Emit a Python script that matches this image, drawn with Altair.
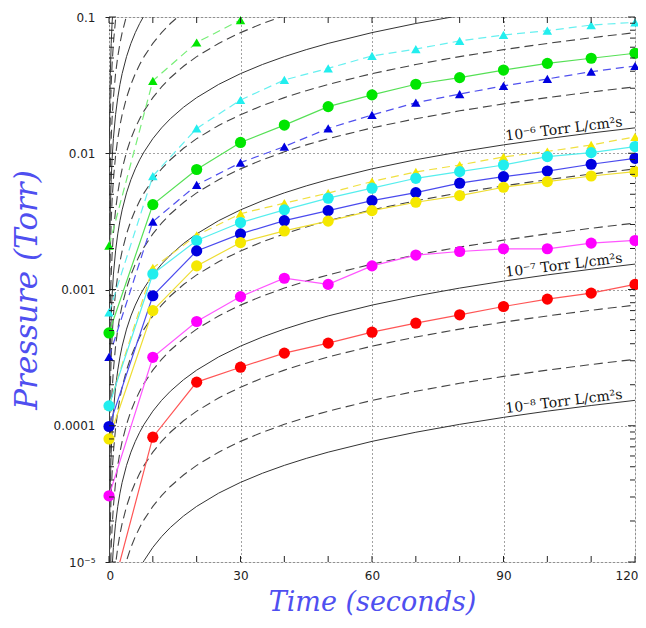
import altair as alt
import pandas as pd

# ---------------- data ----------------
times = [0, 10, 20, 30, 40, 50, 60, 70, 80, 90, 100, 110, 120]

green_triangles = [0.0021, 0.034, 0.065, 0.095]
cyan_triangles = [0.00068, 0.0068, 0.0152, 0.0246, 0.0345, 0.042, 0.0518, 0.0582, 0.0667, 0.0738, 0.0794, 0.0873, 0.0914]
blue_triangles = [0.00032, 0.00315, 0.00585, 0.00853, 0.0112, 0.0152, 0.0191, 0.0235, 0.0272, 0.0312, 0.0351, 0.0397, 0.0437]
yellow_triangles = [0.00014, 0.00144, 0.0025, 0.0036, 0.0043, 0.0051, 0.0062, 0.0073, 0.0082, 0.0094, 0.0103, 0.0115, 0.0132]
green_circles = [0.00048, 0.0042, 0.0076, 0.012, 0.0161, 0.022, 0.0268, 0.0321, 0.0359, 0.0408, 0.0457, 0.0498, 0.0542]
cyan_circles = [0.00014, 0.0013, 0.00229, 0.0031, 0.00384, 0.00468, 0.00554, 0.00655, 0.00733, 0.0082, 0.00944, 0.0101, 0.0112]
blue_circles = [0.0000987, 0.0009, 0.00192, 0.00256, 0.0032, 0.00379, 0.00449, 0.00514, 0.00603, 0.00673, 0.0074, 0.0083, 0.00918]
yellow_circles = [0.00008, 0.0007, 0.00149, 0.00221, 0.00269, 0.00318, 0.00379, 0.00437, 0.00489, 0.00563, 0.0062, 0.00681, 0.00733]
magenta_circles = [0.0000306, 0.000318, 0.000582, 0.000887, 0.00121, 0.00109, 0.00149, 0.00179, 0.0019, 0.00199, 0.00199, 0.00219, 0.00229]
red_circles = [0.000005, 0.0000824, 0.000209, 0.000269, 0.000341, 0.000404, 0.000486, 0.000566, 0.000652, 0.00075, 0.00085, 0.00094, 0.00109]

series_names = ["green_tri", "cyan_tri", "blue_tri", "yellow_tri", "green_circ",
                "cyan_circ", "blue_circ", "yellow_circ", "magenta_circ", "red_circ"]
series_values = [green_triangles, cyan_triangles, blue_triangles, yellow_triangles, green_circles,
                 cyan_circles, blue_circles, yellow_circles, magenta_circles, red_circles]
series_shapes = ["triangle", "triangle", "triangle", "triangle", "circle",
                 "circle", "circle", "circle", "circle", "circle"]
series_colors = ["#00e600", "#22eeee", "#0000e0", "#f5e800", "#00e600",
                 "#22eeee", "#0000e0", "#f5e800", "#ff00ff", "#ff0000"]
line_colors = ["#77ee77", "#66f0f0", "#5050ee", "#f0e040", "#55e055",
               "#55eeee", "#4a4aee", "#eedd33", "#ff55ff", "#ff5555"]

# constant-rate reference curves (pressure rise per second) and their style
ref_rates = [1.28e-6, 2.56e-6, 6.4e-6, 1.28e-5, 2.56e-5, 6.4e-5, 1.28e-4, 2.56e-4,
             6.4e-4, 1.28e-3, 2.56e-3, 6.4e-3, 1.28e-2, 2.56e-2, 6.4e-2, 1.28e-1]
ref_styles = ["solid", "dashed", "dashed", "solid", "dashed", "dashed", "solid", "dashed",
              "dashed", "solid", "dashed", "dashed", "solid", "dashed", "dashed", "solid"]
sample_times = [0.0001, 0.0002, 0.0005, 0.001, 0.002, 0.005, 0.01, 0.02, 0.05, 0.1, 0.2, 0.3,
                0.5, 0.7, 1, 1.5, 2, 2.5, 3, 4, 5, 6, 7, 8, 10, 12, 14, 17, 20, 25, 30, 35,
                40, 45, 50, 60, 70, 80, 90, 100, 110, 120]

label_texts = ["10⁻⁶ Torr L/cm²s", "10⁻⁷ Torr L/cm²s", "10⁻⁸ Torr L/cm²s"]
label_rates = [1.28e-4, 1.28e-5, 1.28e-6]
label_times = [104, 104, 104]

y_tick_values = [1e-5, 1e-4, 1e-3, 1e-2, 1e-1]
y_tick_labels = ["10⁻⁵", "0.0001", "0.001", "0.01", "0.1"]
x_tick_values = [0, 30, 60, 90, 120]
x_minor_ticks = [0, 10, 20, 30, 40, 50, 60, 70, 80, 90, 100, 110, 120]
y_minor_ticks = [m * d for d in [1e-5, 1e-4, 1e-3, 1e-2] for m in range(2, 10)]

# ---------------- tables ----------------
rows = []
for name, vals, shp in zip(series_names, series_values, series_shapes):
    for t, p in zip(times, vals):
        rows.append({"t": t, "p": p, "name": name, "shape": shp})
df = pd.DataFrame(rows)
df_pts = df[df["p"] >= 1e-5]

ref_rows = []
for i, (r, s) in enumerate(zip(ref_rates, ref_styles)):
    for t in sample_times:
        ref_rows.append({"t": t, "p": r * t, "curve": i, "style": s})
ref_df = pd.DataFrame(ref_rows)

lab_df = pd.DataFrame({"t": label_times,
                       "p": [r * t for r, t in zip(label_rates, label_times)],
                       "text": label_texts})

W, H = 526, 545

label_expr = " : ".join(
    [f"datum.value < {v * 3:.8f} ? '{lab}'" for v, lab in zip(y_tick_values[:-1], y_tick_labels[:-1])]
) + f" : '{y_tick_labels[-1]}'"

xscale = alt.Scale(domain=[0, 120], nice=False, zero=False)
yscale = alt.Scale(type="log", domain=[1e-5, 0.1], nice=False)

X = alt.X("t:Q", scale=xscale, axis=alt.Axis(
    values=x_tick_values, grid=True, gridDash=[1, 3], gridColor="#444", gridWidth=1,
    ticks=False, domain=False, labelFont="DejaVu Sans", labelFontSize=12, labelColor="#222",
    labelPadding=8, labelFlush=True, labelFlushOffset=3,
    title="Time (seconds)", titleFont="DejaVu Serif", titleFontStyle="italic",
    titleFontWeight="normal", titleFontSize=27, titleColor="#4f4ff0",
    titleX=W / 2, titleY=48, titleBaseline="alphabetic", titleAlign="center"))
Y = alt.Y("p:Q", scale=yscale, axis=alt.Axis(
    values=y_tick_values, labelExpr=label_expr, grid=True, gridDash=[1, 3],
    gridColor="#444", gridWidth=1, tickSize=4, tickColor="#222", domain=False,
    labelFont="DejaVu Sans", labelFontSize=12, labelColor="#222", labelPadding=10,
    labelFlush=False,
    title="Pressure (Torr)", titleFont="DejaVu Serif", titleFontStyle="italic",
    titleFontWeight="normal", titleFontSize=31, titleColor="#4f4ff0",
    titleAngle=270, titleX=-82, titleY=H / 2, titleBaseline="middle", titleAlign="center"))

color_line = alt.Color("name:N", scale=alt.Scale(domain=series_names, range=line_colors), legend=None)

ref_solid = alt.Chart(ref_df[ref_df["style"] == "solid"]).mark_line(
    clip=True, color="#333", strokeWidth=1).encode(x=X, y=Y, detail="curve:N")
ref_dashed = alt.Chart(ref_df[ref_df["style"] == "dashed"]).mark_line(
    clip=True, color="#444", strokeWidth=1.1, strokeDash=[9, 5]).encode(x=X, y=Y, detail="curve:N")

ser_solid = alt.Chart(df[df["shape"] == "circle"]).mark_line(clip=True, strokeWidth=1.2).encode(
    x=X, y=Y, color=color_line, detail="name:N")
ser_dashed = alt.Chart(df[df["shape"] == "triangle"]).mark_line(
    clip=True, strokeWidth=1.2, strokeDash=[8, 5]).encode(
    x=X, y=Y, color=color_line, detail="name:N")

points = alt.Chart(df_pts).mark_point(filled=True, opacity=1, strokeWidth=0).encode(
    x=X, y=Y,
    fill=alt.Fill("name:N", scale=alt.Scale(domain=series_names, range=series_colors), legend=None),
    shape=alt.Shape("shape:N", scale=alt.Scale(domain=["circle", "triangle"], range=["circle", "triangle-up"]), legend=None),
    size=alt.Size("shape:N", scale=alt.Scale(domain=["circle", "triangle"], range=[125, 90]), legend=None),
)

labels = alt.Chart(lab_df).mark_text(
    angle=353, dy=-3, align="center", baseline="alphabetic", font="DejaVu Serif",
    fontSize=14, color="#111").encode(x=X, y=Y, text="text:N")

ytick_df = pd.DataFrame({"p": y_minor_ticks})
ymaj_df = pd.DataFrame({"p": y_tick_values})
xtick_df = pd.DataFrame({"t": x_minor_ticks})

tick_style = dict(color="#222", strokeWidth=1)
left_minor = alt.Chart(ytick_df).mark_rule(**tick_style).encode(y=Y, x=alt.value(0), x2=alt.value(5))
right_minor = alt.Chart(ytick_df).mark_rule(**tick_style).encode(y=Y, x=alt.value(W - 5), x2=alt.value(W))
left_major = alt.Chart(ymaj_df).mark_rule(**tick_style).encode(y=Y, x=alt.value(0), x2=alt.value(7))
right_major = alt.Chart(ymaj_df).mark_rule(**tick_style).encode(y=Y, x=alt.value(W - 7), x2=alt.value(W))
bottom_ticks = alt.Chart(xtick_df).mark_rule(**tick_style).encode(x=X, y=alt.value(H - 6), y2=alt.value(H))
top_ticks = alt.Chart(xtick_df).mark_rule(**tick_style).encode(x=X, y=alt.value(0), y2=alt.value(6))

chart = alt.layer(
    ref_solid, ref_dashed, ser_dashed, ser_solid, points, labels,
    left_minor, right_minor, left_major, right_major, bottom_ticks, top_ticks
).properties(
    width=W, height=H,
    padding={"left": 101, "top": 9, "right": 3, "bottom": 55},
    autosize=alt.AutoSizeParams(type="none"),
).configure_view(stroke="#111", strokeWidth=1).configure(background="white")

chart.save("out.html", embed_options={"renderer": "svg", "actions": False})
